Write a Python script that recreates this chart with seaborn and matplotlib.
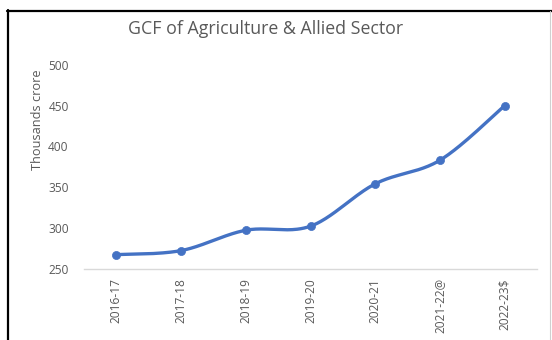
import numpy as np
import pandas as pd
import matplotlib
matplotlib.use("Agg")
import matplotlib.pyplot as plt
from matplotlib.lines import Line2D
import seaborn as sns

# Gross capital formation, agriculture & allied sector (thousand crore)
years = ["2016-17", "2017-18", "2018-19", "2019-20", "2020-21", "2021-22@", "2022-23$"]
gcf = [267, 272, 297, 302, 354, 383, 450]

title = "GCF of Agriculture & Allied Sector"
y_label = "Thousands crore"
y_ticks = [250, 300, 350, 400, 450, 500]

BLUE = "#4472C4"
GREY_TEXT = "#595959"
AXIS_GREY = "#D9D9D9"


def smooth_curve(xs, ys, steps=40):
    """Cubic Bezier pass through each point (Catmull-Rom style tangents)."""
    p = np.column_stack([xs, ys]).astype(float)
    ext = np.vstack([p[0], p, p[-1]])
    out = []
    t = np.linspace(0, 1, steps)[:, None]
    for i in range(len(p) - 1):
        p0, p1 = ext[i + 1], ext[i + 2]
        c1 = p0 + (ext[i + 2] - ext[i]) / 6.0
        c2 = p1 - (ext[i + 3] - ext[i + 1]) / 6.0
        seg = ((1 - t) ** 3) * p0 + 3 * ((1 - t) ** 2) * t * c1 \
            + 3 * (1 - t) * t ** 2 * c2 + t ** 3 * p1
        out.append(seg if i == 0 else seg[1:])
    out = np.vstack(out)
    return out[:, 0], out[:, 1]


sns.set_theme(style="white")
plt.rcParams["font.family"] = ["Open Sans", "DejaVu Sans"]

W, H = 552, 340
fig = plt.figure(figsize=(W / 100, H / 100), dpi=100)
ax = fig.add_axes([84 / W, 1 - 268.5 / H, (537 - 84) / W, (268.5 - 65) / H])

pos = np.arange(len(years))
sx, sy = smooth_curve(pos, gcf)
curve = pd.DataFrame({"x": sx, "y": sy})
pts = pd.DataFrame({"x": pos, "y": gcf})

sns.lineplot(data=curve, x="x", y="y", ax=ax, color=BLUE, linewidth=2.4,
             sort=False, estimator=None)
sns.scatterplot(data=pts, x="x", y="y", ax=ax, color=BLUE, s=34,
                edgecolor=BLUE, linewidth=0.5, zorder=3)

ax.set_xlim(-0.5, len(years) - 0.5)
ax.set_ylim(250, 500)
ax.set_xticks(pos)
ax.set_xticklabels(years, rotation=90, fontsize=8.6, color=GREY_TEXT)
ax.set_yticks(y_ticks)
ax.set_yticklabels([str(v) for v in y_ticks], fontsize=8.6, color=GREY_TEXT)
ax.tick_params(axis="both", length=0)
ax.tick_params(axis="y", pad=11)
ax.tick_params(axis="x", pad=7)

ax.set_xlabel("")
ax.set_ylabel(y_label, fontsize=9.2, color=GREY_TEXT)
ax.yaxis.set_label_coords(-0.088, 0.73)

for side in ["top", "right", "left"]:
    ax.spines[side].set_visible(False)
ax.spines["bottom"].set_color(AXIS_GREY)
ax.spines["bottom"].set_linewidth(1.0)
ax.patch.set_alpha(0)

fig.text(266 / W, 1 - 29 / H, title, ha="center", va="center",
         fontsize=12.8, color=GREY_TEXT)

# Outer frame of the chart box
fig.add_artist(Line2D([8 / W, 8 / W], [0, 1 - 10 / H], transform=fig.transFigure,
                      color="black", linewidth=1.6))
fig.add_artist(Line2D([7 / W, 1], [1 - 10.5 / H, 1 - 10.5 / H], transform=fig.transFigure,
                      color="black", linewidth=1.6))
fig.add_artist(Line2D([550 / W, 550 / W], [0, 1 - 11 / H], transform=fig.transFigure,
                      color="#D0D0D0", linewidth=0.8))

fig.savefig("out.png", dpi=100)
